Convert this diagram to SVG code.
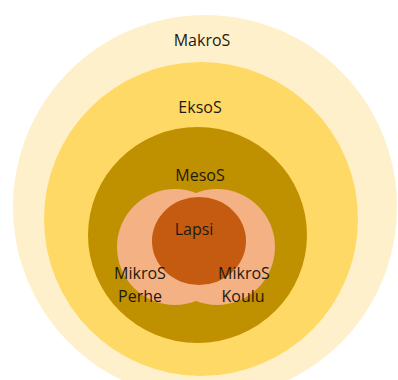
<svg xmlns="http://www.w3.org/2000/svg" width="398" height="380" viewBox="0 0 398 380">
<style>
text{font-family:"Open Sans","Liberation Sans",sans-serif;font-size:16px;fill:#1f1a0e;text-anchor:middle}
</style>
<rect width="398" height="380" fill="#ffffff"/>
<g id="makros"><circle cx="205" cy="207" r="192" fill="#FFF0CC"/><text x="202" y="46">MakroS</text></g>
<g id="eksos"><circle cx="201" cy="219" r="157" fill="#FFD966"/><text x="200" y="113">EksoS</text></g>
<g id="mesos"><ellipse cx="197.5" cy="235" rx="109.5" ry="108" fill="#BF9000"/><text x="200" y="181">MesoS</text></g>
<g id="mikros-perhe"><circle cx="175" cy="247" r="58" fill="#F4B183"/></g>
<g id="mikros-koulu"><circle cx="217" cy="247" r="58" fill="#F4B183"/></g>
<g id="lapsi"><ellipse cx="199" cy="241" rx="47" ry="44" fill="#C55A11"/><text x="194" y="235">Lapsi</text></g>
<g id="labels">
<text x="140" y="279">MikroS</text><text x="140" y="302">Perhe</text>
<text x="244" y="279">MikroS</text><text x="243" y="302">Koulu</text>
</g>
<g id="connectors"/>
</svg>
